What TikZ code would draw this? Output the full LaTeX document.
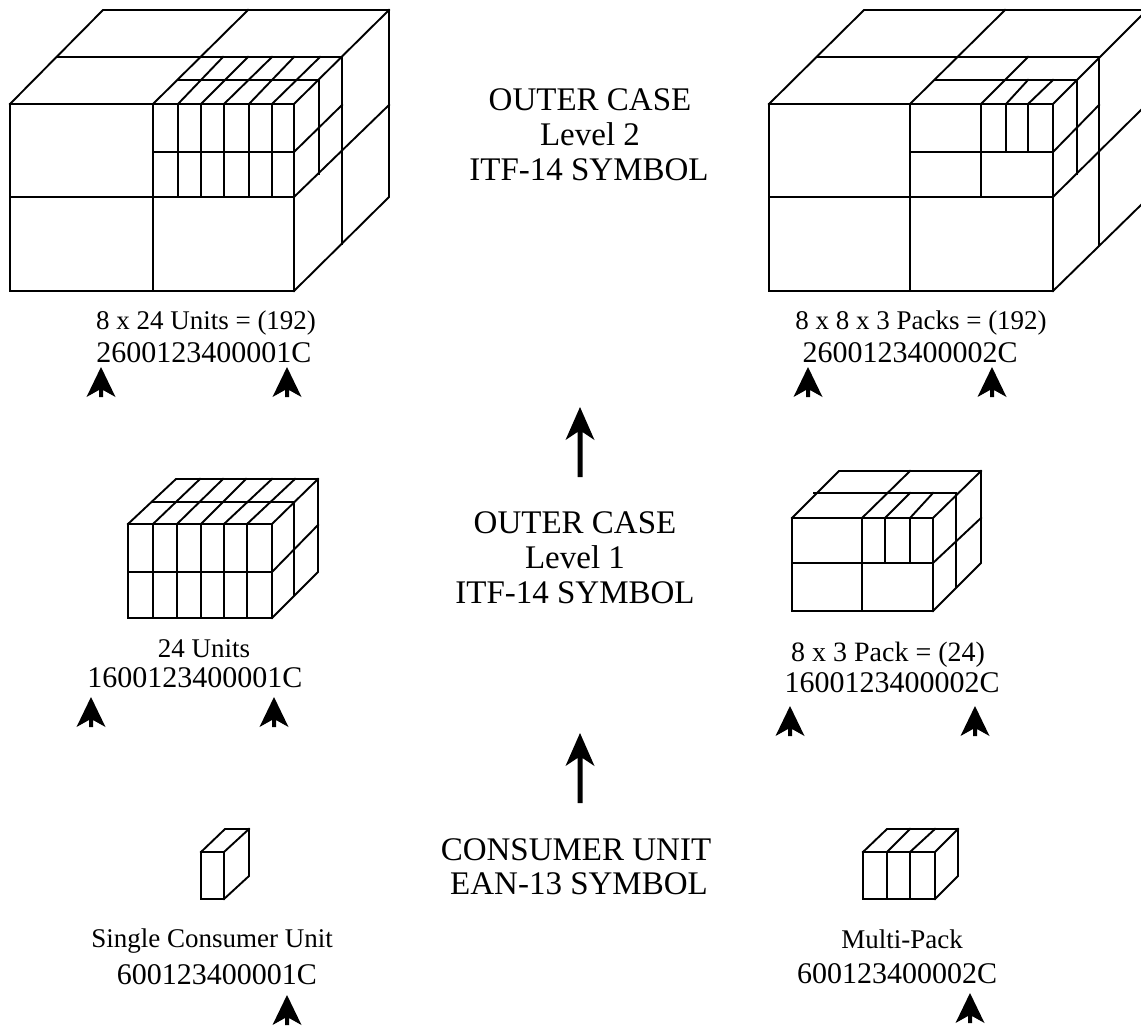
\documentclass[tikz,border=0pt]{standalone}
\usepackage{fontspec}
\setmainfont{Liberation Serif}
\tikzset{x=1pt,y=-1pt,
 wire/.style={line width=1.9pt,line join=miter,line cap=rect},
 smallarrow/.style={fill=black,draw=none},
 bigtxt/.style={font=\fontsize{33}{35}\selectfont,inner sep=0pt,anchor=base},
 code/.style={font=\fontsize{30}{30}\selectfont,inner sep=0pt,anchor=base},
 lab/.style={font=\fontsize{27}{27}\selectfont,inner sep=0pt,anchor=base}}
\newcommand{\smallarr}[2]{\fill[smallarrow] (#1,#2) -- ++(14.5,30) -- ++(-12.5,-7) -- ++(0,7) -- ++(-4,0) -- ++(0,-7) -- ++(-12.5,7) -- cycle;}
\newcommand{\bigarr}[2]{\fill[smallarrow] (#1,#2) -- ++(14.5,33) -- ++(-12,-8) -- ++(0,45) -- ++(-5,0) -- ++(0,-45) -- ++(-12,8) -- cycle;}
\begin{document}
\begin{tikzpicture}
\useasboundingbox (0,0) rectangle (1141,1026);
\clip (0,0) rectangle (1141,1026);
% top-left case
\draw[wire] (10,104) rectangle (294,291);
\draw[wire] (153,104)--(153,291) (10,197)--(294,197)
 (10,104)--(103,10)--(389,10)--(389,197)--(294,291)
 (294,104)--(389,10) (294,197)--(389,105)
 (248,10)--(153,104) (58,57)--(342,57) (342,57)--(342,244)
 (294,152)--(342,105) (153,152)--(294,152)
 (178,80)--(319,80) (319,80)--(319,174);
\foreach \a/\b in {178/223,201/248,224/272,249/294,272/320}{\draw[wire] (\a,104)--(\b,57);}
\foreach \a in {178,201,224,249,272}{\draw[wire] (\a,104)--(\a,197);}
% top-right case
\draw[wire] (769,104) rectangle (1053,291);
\draw[wire] (910,104)--(910,291) (769,197)--(1053,197)
 (769,104)--(864,10)--(1143,10)
 (1053,104)--(1143,14) (1053,197)--(1143,108) (1053,291)--(1143,203)
 (1005,10)--(910,104) (817,57)--(1099,57) (1099,57)--(1099,245)
 (1053,152)--(1099,105) (910,152)--(1053,152)
 (935,80)--(1077,80) (1077,80)--(1077,174)
 (981,104)--(981,197) (1006,104)--(1006,152) (1028,104)--(1028,152)
 (981,104)--(1028,57) (1006,104)--(1028,80) (1028,104)--(1053,80);
% middle-left case
\draw[wire] (128,524) rectangle (272,618);
\draw[wire] (128,572)--(272,572)
 (128,524)--(176,479)--(318,479)--(318,572)--(272,618)
 (272,524)--(318,479) (272,572)--(318,525)
 (152,502)--(294,502) (294,502)--(294,595);
\foreach \a/\b in {153/200,177/223,201/246,224/272,247/295}{\draw[wire] (\a,524)--(\b,479);}
\foreach \a in {153,177,201,224,247}{\draw[wire] (\a,524)--(\a,618);}
% middle-right case
\draw[wire] (792,518) rectangle (933,611);
\draw[wire] (792,563)--(933,563) (862,518)--(862,611)
 (792,518)--(839,471)--(981,471)--(981,563)--(933,611)
 (933,518)--(981,471) (933,563)--(981,518)
 (814,493)--(956,493) (956,493)--(956,587)
 (862,518)--(910,471) (885,518)--(910,493) (910,518)--(933,493)
 (885,518)--(885,563) (910,518)--(910,563);
% single unit
\draw[wire] (201,852) rectangle (224,899);
\draw[wire] (201,852)--(225,829)--(249,829)--(249,876)--(224,899) (224,852)--(249,829);
% multipack
\draw[wire] (863,852) rectangle (935,899);
\draw[wire] (887,852)--(887,899) (910,852)--(910,899)
 (863,852)--(887,829)--(958,829)--(958,876)--(935,899)
 (887,852)--(910,829) (910,852)--(935,829) (935,852)--(958,829);
% arrows
\bigarr{580}{407}
\bigarr{580}{733}
\smallarr{101}{367}\smallarr{287}{367}
\smallarr{808}{367}\smallarr{992}{367}
\smallarr{91}{697}\smallarr{274}{697}
\smallarr{790}{706}\smallarr{975}{706}
\smallarr{287}{995}\smallarr{970}{993}
% texts
\node[bigtxt] (t1a) at (590,110) {OUTER CASE};
\node[bigtxt] (t1b) at (590,145) {Level 2};
\node[bigtxt] (t1c) at (589,180) {ITF-14 SYMBOL};
\node[bigtxt] (t2a) at (575,533) {OUTER CASE};
\node[bigtxt] (t2b) at (575,568) {Level 1};
\node[bigtxt] (t2c) at (575,603) {ITF-14 SYMBOL};
\node[bigtxt] (t3a) at (576,860) {CONSUMER UNIT};
\node[bigtxt] (t3b) at (579,894) {EAN-13 SYMBOL};
\node[lab] (a1) at (206,329) {8 x 24 Units = (192)};
\node[code] (c1) at (204,362) {2600123400001C};
\node[lab] (a2) at (921,329) {8 x 8 x 3 Packs = (192)};
\node[code] (c2) at (910,362) {2600123400002C};
\node[lab] (a3) at (204,657) {24 Units};
\node[code] (c3) at (195,687) {1600123400001C};
\node[lab,font=\fontsize{28}{28}\selectfont] (a4) at (888,661) {8 x 3 Pack = (24)};
\node[code] (c4) at (892,692) {1600123400002C};
\node[lab] (a5) at (212,947) {Single Consumer Unit};
\node[code] (c5) at (217,984) {600123400001C};
\node[lab] (a6) at (902,948) {Multi-Pack};
\node[code] (c6) at (897,983) {600123400002C};
\end{tikzpicture}
\end{document}
